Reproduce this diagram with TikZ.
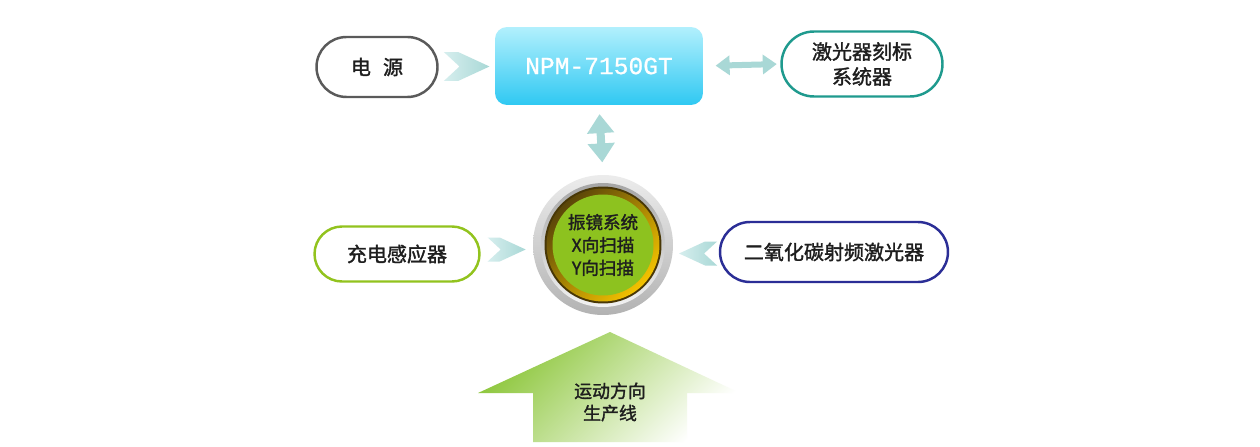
\documentclass[tikz,border=0pt]{standalone}
\usepackage{fontspec}
\usepackage{tikz}
\usetikzlibrary{arrows.meta,calc,shapes.misc}
\newfontfamily\cjk{Noto Sans CJK SC}[FakeBold=1.6]
\newfontfamily\npmfont{Liberation Mono}[FakeBold=0.8]
\definecolor{lsInk}{HTML}{1E1E1E}
\definecolor{lsGrayLn}{HTML}{5A5A5A}
\definecolor{lsTeal}{HTML}{1F9A8E}
\definecolor{lsLime}{HTML}{92C31E}
\definecolor{lsNavy}{HTML}{2B2E96}
\definecolor{lsCyanT}{HTML}{B2F0FD}
\definecolor{lsCyanB}{HTML}{2FC8F2}
\definecolor{lsArr}{HTML}{A9D8D6}
\definecolor{lsArrL}{HTML}{D6EEEE}
\definecolor{lsGreen}{HTML}{8DC21F}
\definecolor{lsGoldD}{HTML}{5A4508}
\definecolor{lsGold}{HTML}{F4C300}
\definecolor{lsMove}{HTML}{8CC63A}
\tikzset{
  % pill shaped unit box
  pill/.style={rounded rectangle,line width=1.4pt,fill=white,
    align=center,inner sep=0pt,text=lsInk,
    font=\cjk\fontsize{11.4}{14.2}\selectfont},
  % controller box (cyan)
  npmbox/.style={rectangle,rounded corners=0.24cm,
    minimum width=4.16cm,minimum height=1.56cm,
    top color=lsCyanT,bottom color=lsCyanB,draw=none,
    font=\npmfont\fontsize{14}{16}\selectfont,text=white},
  % galvo text
  scantxt/.style={align=center,text=lsInk,
    font=\cjk\fontsize{10}{13}\selectfont},
  % motion text
  mvtxt/.style={align=center,text=lsInk,
    font=\cjk\fontsize{10.2}{12.6}\selectfont},
  % double arrows
  dbl/.style={{Triangle[width=0.38cm,length=0.28cm]}-{Triangle[width=0.38cm,length=0.28cm]},
    line width=0.12cm,draw=lsArr},
  dblv/.style={{Triangle[width=0.52cm,length=0.38cm]}-{Triangle[width=0.52cm,length=0.38cm]},
    line width=0.16cm,draw=lsArr},
  chev/.style={left color=lsArrL,right color=lsArr},
  chevron/.pic={\shade[chev] (-19,12) -- (-7,12) -- (19,0) -- (-7,-12)
    -- (-19,-12) -- (-6,0) -- cycle;},
}
\begin{document}
\begin{tikzpicture}[x=0.02cm,y=-0.02cm]
  \useasboundingbox[fill=white] (0,0) rectangle (1260,446);

  % Top row
  \node[npmbox] (npm) at (599,66) {NPM-7150GT};
  \node[pill,draw=lsGrayLn,minimum width=2.42cm,minimum height=1.2cm] (pwr)
    at (377,67) {电\hspace{0.6em}源};
  \node[pill,draw=lsTeal,minimum width=3.22cm,minimum height=1.3cm] (mark)
    at (862,64) {激光器刻标\\系统器};

  % Galvo unit (rings)
  \node[circle,minimum size=2.8cm,inner sep=0pt,
    top color=gray!15,bottom color=gray!60] (scan) at (603,245) {};
  \shade[top color=gray!70,bottom color=gray!10] (scan.center) circle (1.24cm);
  \fill[lsGoldD!80!black] (scan.center) circle (1.17cm);
  \shade[top color=lsGoldD,bottom color=lsGold,shading angle=45]
    (scan.center) circle (1.13cm);
  \fill[lsGreen] (scan.center) circle (1.01cm);
  \node[scantxt] at (scan.center) {振镜系统\\X向扫描\\Y向扫描};

  % Middle row
  \node[pill,draw=lsLime,minimum width=3.3cm,minimum height=1.1cm] (chg)
    at (397,254) {充电感应器};
  \node[pill,draw=lsNavy,minimum width=4.56cm,minimum height=1.2cm] (co2)
    at (834,252) {二氧化碳射频激光器};

  % Chevrons
  \pic[scale=1.2] at ($(pwr.east)!0.5!(npm.west)$) {chevron};
  \pic at ($(chg.east)!0.5!(scan.west)$) {chevron};
  \pic[rotate=180] at ($(co2.west)!0.5!(scan.east)+(2,5)$) {chevron};

  % Double arrows
  \draw[dbl,shorten <=7,shorten >=2] (npm.east) -- (mark.west);
  \draw[dblv,shorten <=5,shorten >=7] (npm.south) -- (scan.north);

  % Production line direction
  \shade[top color=lsMove,middle color=lsMove!55,bottom color=white,shading angle=45]
    (610,332) -- (740,393) -- (687,393) -- (687,442) -- (533,442)
    -- (533,393) -- (478,393) -- cycle;
  \node[mvtxt] (mv) at (610,402) {运动方向\\生产线};
\end{tikzpicture}
\end{document}
